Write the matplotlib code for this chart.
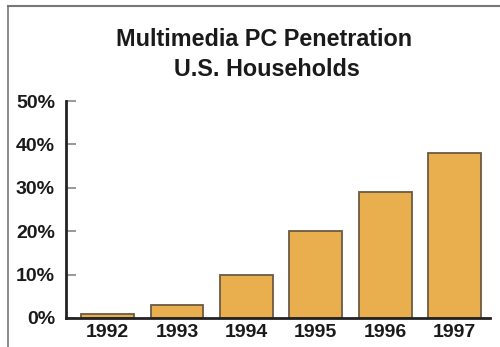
import matplotlib.pyplot as plt
from matplotlib.lines import Line2D

years = ['1992', '1993', '1994', '1995', '1996', '1997']
penetration = [1, 3, 10, 20, 29, 38]
yticks = [0, 10, 20, 30, 40, 50]
ylabels = ['0%', '10%', '20%', '30%', '40%', '50%']

plt.rcParams['font.family'] = ['Liberation Sans', 'DejaVu Sans']

fig = plt.figure(figsize=(5.0, 3.47), dpi=100)
ax = fig.add_axes([66 / 500, 1 - 318 / 347, (490 - 66) / 500, (318 - 101) / 347])

x = range(len(years))
ax.bar(x, penetration, width=0.76, color='#e9ae4e', edgecolor='#6b5a44', linewidth=1.3)

ax.set_xlim(-0.6, 5.51)
ax.set_ylim(0, 50)
ax.set_xticks(list(x))
ax.set_xticklabels(years, fontsize=14, fontweight='bold', color='#1a1a1a')
ax.set_yticks(yticks)
ax.set_yticklabels(ylabels, fontsize=14, fontweight='bold', color='#1a1a1a')
ax.tick_params(axis='x', length=0, pad=4)
ax.tick_params(axis='y', direction='in', length=7, width=1.2, color='#888888', pad=8)

for s in ['top', 'right']:
    ax.spines[s].set_visible(False)
ax.spines['left'].set_linewidth(2)
ax.spines['bottom'].set_linewidth(2)
ax.spines['left'].set_color('#222222')
ax.spines['bottom'].set_color('#222222')

fig.text(264 / 500, 1 - 40 / 347, 'Multimedia PC Penetration', ha='center', va='center',
         fontsize=16.8, fontweight='bold', color='#1a1a1a')
fig.text(267 / 500, 1 - 70 / 347, 'U.S. Households', ha='center', va='center',
         fontsize=16.8, fontweight='bold', color='#1a1a1a')

# scanned page frame
fig.add_artist(Line2D([8 / 500, 8 / 500], [0, 1 - 6 / 347], color='#777777', linewidth=1.2))
fig.add_artist(Line2D([8 / 500, 1], [1 - 6 / 347, 1 - 6 / 347], color='#777777', linewidth=1.5))

fig.savefig('out.png', dpi=100)
